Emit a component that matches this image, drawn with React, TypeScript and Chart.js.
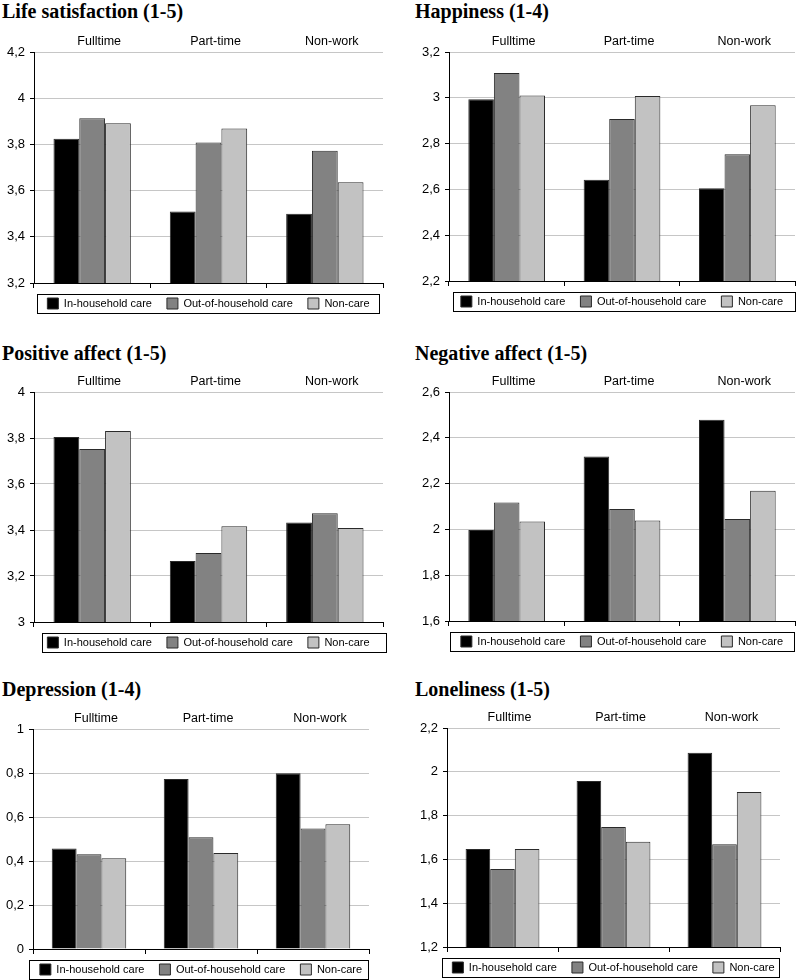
import React, { useEffect, useRef } from "react";
import { Chart, registerables } from "chart.js";

Chart.register(...registerables);

// ---------- data ----------
const categories = ["Fulltime", "Part-time", "Non-work"];
const seriesNames = ["In-household care", "Out-of-household care", "Non-care"];

const lifeInHousehold = [3.825, 3.51, 3.5];
const lifeOutHousehold = [3.913, 3.808, 3.772];
const lifeNonCare = [3.892, 3.869, 3.636];
const lifeTicks = ["3,2", "3,4", "3,6", "3,8", "4", "4,2"];

const happyInHousehold = [2.994, 2.642, 2.605];
const happyOutHousehold = [3.108, 2.907, 2.754];
const happyNonCare = [3.01, 3.008, 2.968];
const happyTicks = ["2,2", "2,4", "2,6", "2,8", "3", "3,2"];

const posInHousehold = [3.804, 3.265, 3.433];
const posOutHousehold = [3.752, 3.3, 3.473];
const posNonCare = [3.83, 3.416, 3.409];
const posTicks = ["3", "3,2", "3,4", "3,6", "3,8", "4"];

const negInHousehold = [1.997, 2.318, 2.479];
const negOutHousehold = [2.117, 2.089, 2.045];
const negNonCare = [2.034, 2.039, 2.169];
const negTicks = ["1,6", "1,8", "2", "2,2", "2,4", "2,6"];

const depInHousehold = [0.457, 0.773, 0.799];
const depOutHousehold = [0.431, 0.508, 0.548];
const depNonCare = [0.413, 0.436, 0.567];
const depTicks = ["0", "0,2", "0,4", "0,6", "0,8", "1"];

const lonInHousehold = [1.648, 1.958, 2.087];
const lonOutHousehold = [1.556, 1.748, 1.669];
const lonNonCare = [1.648, 1.681, 1.908];
const lonTicks = ["1,2", "1,4", "1,6", "1,8", "2", "2,2"];

const titles = [
  "Life satisfaction (1-5)",
  "Happiness (1-4)",
  "Positive affect (1-5)",
  "Negative affect (1-5)",
  "Depression (1-4)",
  "Loneliness (1-5)",
];

// ---------- styles / layout ----------
const barColors = ["#000000", "#828282", "#c2c2c2"];
const SANS = "'Liberation Sans', Arial, sans-serif";
const Y_W = 34;
const TOP_H = 22;
const LEGEND_PAD = 15;
const LEGEND_FONT = 11;
const LEGEND_H = LEGEND_FONT + LEGEND_PAD + 10;

type Layout = {
  axisX: number;
  right: number;
  top: number;
  bottom: number;
  dl: number;
  dr: number;
  titleX: number;
  titleTop: number;
};

const layouts: Layout[] = [
  { axisX: 34, right: 383, top: 52, bottom: 283, dl: 3, dr: -3, titleX: 2, titleTop: 1 },
  { axisX: 449, right: 795, top: 52, bottom: 281, dl: 4, dr: 1, titleX: 415, titleTop: 1 },
  { axisX: 34, right: 383, top: 392, bottom: 622, dl: 8, dr: 4, titleX: 2, titleTop: 343 },
  { axisX: 449, right: 795, top: 392, bottom: 621, dl: 1, dr: 0, titleX: 415, titleTop: 343 },
  { axisX: 33, right: 369, top: 729, bottom: 949, dl: -4, dr: 0, titleX: 2, titleTop: 679 },
  { axisX: 447, right: 780, top: 728, bottom: 947, dl: -5, dr: 0, titleX: 415, titleTop: 679 },
];

const panelSeries = [
  [lifeInHousehold, lifeOutHousehold, lifeNonCare],
  [happyInHousehold, happyOutHousehold, happyNonCare],
  [posInHousehold, posOutHousehold, posNonCare],
  [negInHousehold, negOutHousehold, negNonCare],
  [depInHousehold, depOutHousehold, depNonCare],
  [lonInHousehold, lonOutHousehold, lonNonCare],
];
const panelTicks = [lifeTicks, happyTicks, posTicks, negTicks, depTicks, lonTicks];

const parseTick = (s: string) => parseFloat(s.replace(",", "."));

function Panel({ idx }: { idx: number }) {
  const ref = useRef<HTMLCanvasElement | null>(null);
  const lay = layouts[idx];
  const left = lay.axisX - Y_W;
  const top = lay.top - TOP_H;
  const width = lay.right - left + Y_W;
  const height = TOP_H + (lay.bottom - lay.top) + LEGEND_H;

  useEffect(() => {
    if (!ref.current) return;
    const ticks = panelTicks[idx];
    const series = panelSeries[idx];
    const frame = {
      id: "legendFrame" + idx,
      afterDraw(chart: any) {
        const lg = chart.legend;
        if (!lg) return;
        const ca = chart.chartArea;
        const ctx = chart.ctx;
        const l = Math.round(ca.left + lay.dl) + 0.5;
        const r = Math.round(ca.right + lay.dr) - 0.5;
        const t = Math.round(lg.top + LEGEND_PAD - 4) + 0.5;
        const b = Math.round(lg.top + LEGEND_PAD + LEGEND_FONT + 5) - 0.5;
        ctx.save();
        ctx.strokeStyle = "#000";
        ctx.lineWidth = 1;
        ctx.strokeRect(l, t, r - l, b - t);
        ctx.restore();
      },
    };
    const chart = new Chart(ref.current, {
      type: "bar",
      data: {
        labels: categories,
        datasets: series.map((vals, i) => ({
          label: seriesNames[i],
          data: vals,
          backgroundColor: barColors[i],
          borderColor: "#2a2a2a",
          borderWidth: 1,
          barPercentage: 1,
          categoryPercentage: 0.665,
        })),
      },
      options: {
        responsive: false,
        animation: false,
        devicePixelRatio: 1,
        layout: { padding: 0 },
        plugins: {
          tooltip: { enabled: false },
          title: { display: false },
          legend: {
            display: true,
            position: "bottom",
            fullSize: true,
            align: "center",
            labels: {
              boxWidth: LEGEND_FONT,
              boxHeight: LEGEND_FONT,
              padding: LEGEND_PAD,
              color: "#000",
              font: { family: SANS, size: LEGEND_FONT },
            },
          },
        },
        scales: {
          x: {
            type: "category",
            position: "bottom",
            offset: true,
            grid: {
              display: true,
              offset: true,
              drawOnChartArea: false,
              drawTicks: true,
              tickLength: 5,
              tickColor: "#000",
              color: "#000",
            },
            border: { display: true, color: "#000", width: 1 },
            ticks: { display: false },
            afterFit: (s: any) => {
              s.height = 0;
            },
          },
          x2: {
            type: "category",
            position: "top",
            labels: categories,
            offset: true,
            grid: { display: false, drawTicks: false },
            border: { display: false },
            ticks: {
              color: "#000",
              padding: 3,
              labelOffset: 7,
              font: { family: SANS, size: 12.5 },
            },
            afterFit: (s: any) => {
              s.height = TOP_H;
            },
          },
          y: {
            type: "linear",
            position: "left",
            min: parseTick(ticks[0]),
            max: parseTick(ticks[ticks.length - 1]),
            grid: {
              color: "#c6c6c6",
              lineWidth: 1,
              drawTicks: true,
              tickLength: 4,
              tickColor: "#000",
            },
            border: { display: true, color: "#000", width: 1 },
            afterBuildTicks: (s: any) => {
              s.ticks = ticks.map((t) => ({ value: parseTick(t) }));
            },
            ticks: {
              color: "#000",
              padding: 5,
              font: { family: SANS, size: 13 },
              callback: (_v: any, i: number) => ticks[i],
            },
            afterFit: (s: any) => {
              s.width = Y_W;
            },
          },
          yPad: {
            type: "linear",
            position: "right",
            display: true,
            grid: { display: false, drawTicks: false },
            border: { display: false },
            ticks: { display: false },
            afterFit: (s: any) => {
              s.width = Y_W;
            },
          },
        },
      },
      plugins: [frame],
    } as any);
    return () => chart.destroy();
  }, [idx]);

  return (
    <>
      <div
        style={{
          position: "absolute",
          left: lay.titleX,
          top: lay.titleTop,
          font: "bold 20px 'Liberation Serif', 'Times New Roman', serif",
          lineHeight: "20px",
          color: "#000",
          whiteSpace: "nowrap",
        }}
      >
        {titles[idx]}
      </div>
      <canvas
        ref={ref}
        width={width}
        height={height}
        style={{ position: "absolute", left, top, width, height }}
      />
    </>
  );
}

export default function App() {
  return (
    <div
      style={{
        position: "absolute",
        left: 0,
        top: 0,
        width: 798,
        height: 980,
        overflow: "hidden",
        background: "#fff",
      }}
    >
      {layouts.map((_, i) => (
        <Panel key={i} idx={i} />
      ))}
    </div>
  );
}
